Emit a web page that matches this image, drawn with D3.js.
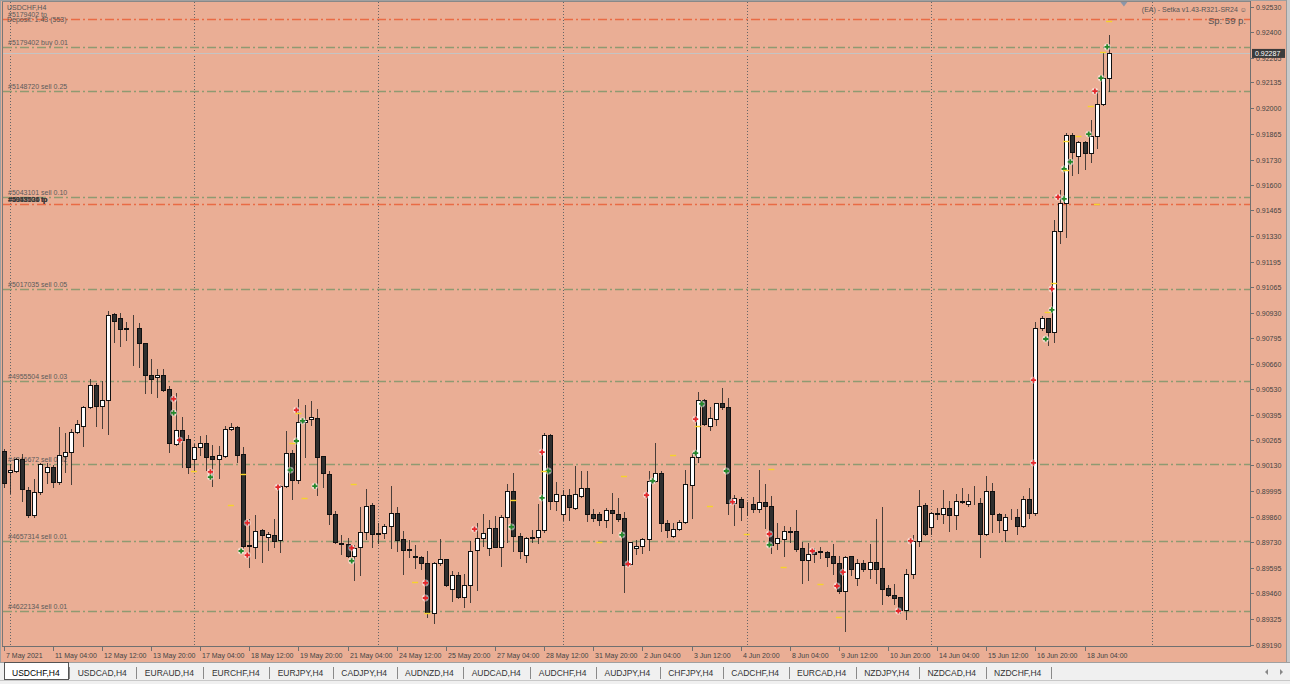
<!DOCTYPE html>
<html>
<head>
<meta charset="utf-8">
<script src="https://cdn.jsdelivr.net/npm/d3@7"></script>
<style>
  html, body { margin: 0; padding: 0; background: #f0f0f0; }
  svg { display: block; }
  text { font-family: "Liberation Sans", Arial, sans-serif; }
</style>
</head>
<body>
<div id="chart"></div>
<script>
(function(){
    var width = 1290,
        height = 684;

    // USDCHF H4, one value per bar, bar 0 = 7 May 2021 20:00
    var opens = [
      0.90206,0.90096,0.90101,0.90164,0.90001,0.89871,0.89991,0.90096,0.90122,0.90043,
      0.90179,0.90200,0.90305,0.90336,0.90436,0.90551,0.90441,0.90473,0.90923,0.90902,
      0.90850,0.90850,0.90850,0.90771,0.90603,0.90593,0.90603,0.90530,0.90242,0.90316,
      0.90268,0.90164,0.90227,0.90248,0.90179,0.90164,0.90179,0.90321,0.90331,0.90190,
      0.89713,0.89703,0.89792,0.89755,0.89766,0.89740,0.90022,0.90195,0.90054,0.90357,
      0.90373,0.90378,0.90179,0.90085,0.89876,0.89724,0.89719,0.89656,0.89703,0.89782,
      0.89923,0.89776,0.89776,0.89813,0.89881,0.89745,0.89692,0.89655,0.89651,0.89619,
      0.89357,0.89619,0.89640,0.89483,0.89556,0.89441,0.89504,0.89687,0.89750,0.89698,
      0.89803,0.89703,0.89860,0.89996,0.89761,0.89661,0.89754,0.89755,0.89792,0.90289,
      0.89944,0.89876,0.89975,0.89907,0.89970,0.90012,0.89876,0.89876,0.89844,0.89897,
      0.89876,0.89855,0.89614,0.89698,0.89708,0.89745,0.90049,0.90090,0.89829,0.89761,
      0.89797,0.89834,0.90028,0.90174,0.90473,0.90336,0.90373,0.90457,0.90436,0.89933,
      0.89954,0.89918,0.89928,0.89902,0.89939,0.89918,0.89724,0.89747,0.89787,0.89787,
      0.89698,0.89635,0.89677,0.89680,0.89677,0.89656,0.89619,0.89472,0.89656,0.89541,
      0.89619,0.89588,0.89627,0.89593,0.89488,0.89452,0.89441,0.89373,0.89562,0.89734,
      0.89923,0.89808,0.89881,0.89876,0.89907,0.89871,0.89944,0.89928,0.89939,0.89933,
      0.89771,0.89996,0.89876,0.89792,0.89866,0.89860,0.89813,0.89954,0.89881,0.90850,
      0.90902,0.90831,0.91359,0.91504,0.91862,0.91748,0.91825,0.91765,0.91856,0.92021,0.92158
    ];
    var highs = [
      0.90216,0.90138,0.90169,0.90190,0.90017,0.90059,0.90143,0.90143,0.90132,0.90331,
      0.90300,0.90321,0.90368,0.90441,0.90583,0.90562,0.90572,0.90938,0.90928,0.90928,
      0.90881,0.90918,0.90876,0.90773,0.90687,0.90635,0.90635,0.90546,0.90509,0.90384,
      0.90289,0.90242,0.90284,0.90289,0.90237,0.90232,0.90336,0.90352,0.90336,0.90227,
      0.89850,0.89871,0.89795,0.89782,0.89850,0.90028,0.90310,0.90211,0.90478,0.90446,
      0.90467,0.90425,0.90181,0.90101,0.89892,0.89766,0.89750,0.89713,0.89912,0.90007,
      0.89933,0.89829,0.89823,0.90022,0.89912,0.89787,0.89740,0.89713,0.89656,0.89682,
      0.89625,0.89745,0.89642,0.89577,0.89572,0.89562,0.89734,0.89829,0.89876,0.89844,
      0.89866,0.89871,0.90033,0.90090,0.89776,0.89755,0.89792,0.89928,0.90300,0.90295,
      0.90043,0.90001,0.90007,0.90127,0.90101,0.90101,0.89902,0.89886,0.89907,0.89986,
      0.89960,0.89886,0.89731,0.89740,0.89750,0.90101,0.90248,0.90101,0.89844,0.89829,
      0.89844,0.90106,0.90195,0.90514,0.90478,0.90436,0.90459,0.90535,0.90483,0.89975,
      0.89965,0.89939,0.89965,0.90106,0.90033,0.89970,0.89829,0.89813,0.89808,0.89897,
      0.89729,0.89724,0.89698,0.89703,0.89682,0.89719,0.89656,0.89656,0.89658,0.89638,
      0.89635,0.89719,0.89850,0.89912,0.89504,0.89509,0.89443,0.89588,0.89766,0.90001,
      0.89933,0.89886,0.89907,0.90001,0.89944,0.89980,0.90012,0.89980,0.90022,0.89960,
      0.90075,0.90038,0.89881,0.89876,0.89902,0.89902,0.89970,0.90012,0.90881,0.90913,
      0.90904,0.91417,0.91572,0.91872,0.91872,0.91830,0.91830,0.91938,0.92093,0.92296,0.92383
    ];
    var lows = [
      0.90017,0.89986,0.90096,0.89944,0.89860,0.89860,0.89980,0.90038,0.90017,0.90033,
      0.90096,0.90033,0.90300,0.90232,0.90433,0.90336,0.90326,0.90295,0.90776,0.90755,
      0.90787,0.90656,0.90645,0.90509,0.90509,0.90488,0.90520,0.90200,0.90237,0.90122,
      0.90090,0.90101,0.90185,0.90106,0.90022,0.90064,0.90174,0.90316,0.90148,0.89698,
      0.89598,0.89645,0.89625,0.89687,0.89703,0.89677,0.90017,0.89954,0.90038,0.90174,
      0.90342,0.89975,0.90017,0.89823,0.89724,0.89666,0.89651,0.89530,0.89556,0.89745,
      0.89703,0.89724,0.89750,0.89698,0.89682,0.89562,0.89651,0.89593,0.89588,0.89337,
      0.89305,0.89609,0.89499,0.89420,0.89436,0.89389,0.89415,0.89478,0.89708,0.89661,
      0.89703,0.89603,0.89729,0.89682,0.89645,0.89625,0.89729,0.89724,0.89782,0.89902,
      0.89897,0.89844,0.89844,0.89904,0.89965,0.89839,0.89839,0.89818,0.89808,0.89776,
      0.89839,0.89467,0.89609,0.89666,0.89672,0.89687,0.90043,0.89787,0.89755,0.89755,
      0.89792,0.89831,0.89855,0.90148,0.90342,0.90316,0.90342,0.90425,0.89876,0.89818,
      0.89844,0.89871,0.89886,0.89886,0.89803,0.89672,0.89692,0.89658,0.89727,0.89682,
      0.89517,0.89530,0.89627,0.89648,0.89606,0.89562,0.89462,0.89263,0.89556,0.89504,
      0.89577,0.89541,0.89515,0.89405,0.89446,0.89405,0.89357,0.89326,0.89541,0.89708,
      0.89766,0.89771,0.89850,0.89829,0.89787,0.89797,0.89933,0.89918,0.89928,0.89651,
      0.89766,0.89782,0.89782,0.89734,0.89850,0.89771,0.89808,0.89855,0.89871,0.90839,
      0.90761,0.90776,0.91294,0.91328,0.91650,0.91661,0.91680,0.91721,0.91793,0.92017,0.92090
    ];
    var closes = [
      0.90038,0.90106,0.90164,0.90007,0.89871,0.89991,0.90138,0.90122,0.90043,0.90185,
      0.90200,0.90305,0.90347,0.90436,0.90551,0.90441,0.90473,0.90918,0.90886,0.90844,
      0.90844,0.90847,0.90771,0.90603,0.90582,0.90603,0.90525,0.90248,0.90316,0.90263,
      0.90122,0.90227,0.90248,0.90174,0.90164,0.90185,0.90321,0.90331,0.90185,0.89708,
      0.89708,0.89787,0.89766,0.89771,0.89734,0.90022,0.90195,0.90054,0.90357,0.90368,
      0.90384,0.90174,0.90090,0.89876,0.89729,0.89721,0.89656,0.89698,0.89782,0.89918,
      0.89771,0.89773,0.89813,0.89881,0.89740,0.89687,0.89689,0.89651,0.89619,0.89357,
      0.89619,0.89640,0.89504,0.89556,0.89441,0.89504,0.89682,0.89750,0.89776,0.89803,
      0.89705,0.89860,0.89996,0.89761,0.89682,0.89750,0.89750,0.89792,0.90289,0.89944,
      0.89980,0.89975,0.89912,0.89980,0.90012,0.89876,0.89855,0.89844,0.89897,0.89881,
      0.89850,0.89609,0.89727,0.89708,0.89745,0.90049,0.90090,0.89829,0.89792,0.89797,
      0.89834,0.90033,0.90174,0.90473,0.90347,0.90378,0.90455,0.90436,0.89933,0.89960,
      0.89912,0.89916,0.89902,0.89939,0.89918,0.89713,0.89750,0.89787,0.89784,0.89692,
      0.89635,0.89666,0.89666,0.89678,0.89651,0.89619,0.89472,0.89651,0.89588,0.89619,
      0.89588,0.89627,0.89588,0.89483,0.89452,0.89436,0.89373,0.89562,0.89734,0.89918,
      0.89772,0.89881,0.89878,0.89907,0.89871,0.89944,0.89941,0.89944,0.89937,0.89771,
      0.89996,0.89876,0.89844,0.89860,0.89864,0.89813,0.89954,0.89881,0.90852,0.90902,
      0.90831,0.91359,0.91504,0.91862,0.91769,0.91825,0.91765,0.91856,0.92021,0.92156,0.92287
    ];

    // time axis: one label every 8 bars
    var timeLabels = ["7 May 2021","11 May 04:00","12 May 12:00","13 May 20:00","17 May 04:00",
      "18 May 12:00","19 May 20:00","21 May 04:00","24 May 12:00","25 May 20:00","27 May 04:00",
      "28 May 12:00","31 May 20:00","2 Jun 04:00","3 Jun 12:00","4 Jun 20:00","8 Jun 04:00",
      "9 Jun 12:00","10 Jun 20:00","14 Jun 04:00","15 Jun 12:00","16 Jun 20:00","18 Jun 04:00"];
    var labelStep = 8;
    var weekBars = [1, 31, 61, 91, 121, 151, 187];

    var priceTicks = [0.92530,0.92400,0.92265,0.92135,0.92000,0.91865,0.91730,0.91600,0.91465,
      0.91330,0.91195,0.91065,0.90930,0.90795,0.90660,0.90530,0.90395,0.90265,0.90130,0.89995,
      0.89860,0.89730,0.89595,0.89460,0.89325,0.89190];
    var bid = 0.92287;

    // open orders drawn as horizontal lines
    var orderPrices = [0.92467, 0.92321, 0.92090, 0.91535, 0.91499, 0.91054, 0.90572, 0.90138, 0.89734, 0.89368];
    var orderTypes  = ["tp","open","open","open","tp","open","open","open","open","open"];
    var orderTexts  = [["#5179402 tp"], ["#5179402 buy 0.01"], ["#5148720 sell 0.25"], ["#5043101 sell 0.10"],
      ["#5043101 tp","#5017035 tp","#4955504 tp","#5148720 tp"], ["#5017035 sell 0.05"], ["#4955504 sell 0.03"],
      ["#4846672 sell 0.02"], ["#4657314 sell 0.01"], ["#4622134 sell 0.01"]];

    // trade arrows [bar, price]
    var sellMarks = [[28,0.90478],[29,0.90263],[34,0.90096],[40,0.89829],[40,0.89661],[48,0.90420],[45,0.90017],
      [57,0.89698],[69,0.89515],[69,0.89436],[77,0.89797],[88,0.90200],[102,0.89614],[105,0.89975],[113,0.90373],
      [119,0.89939],[125,0.89771],[132,0.89682],[136,0.89499],[137,0.89572],[146,0.89368],[148,0.89735],
      [168,0.90577],[168,0.90143],[171,0.91054],[172,0.91535],[178,0.92090]];
    var buyMarks = [[28,0.90405],[34,0.90069],[39,0.89682],[49,0.90363],[48,0.90258],[47,0.90106],[51,0.90022],
      [57,0.89630],[83,0.89808],[89,0.90101],[88,0.89960],[101,0.89766],[106,0.90049],[114,0.90452],[113,0.90195],
      [118,0.90101],[125,0.89714],[170,0.90792],[171,0.90944],[173,0.91525],[173,0.91682],[174,0.91719],
      [177,0.91865],[179,0.92158],[180,0.92321]];
    var levelMarks = [[31,0.90101],[37,0.89923],[39,0.90085],[48,0.90405],[47,0.90248],[49,0.89960],[57,0.90033],
      [67,0.89520],[69,0.89357],[83,0.89949],[88,0.90101],[101,0.90075],[97,0.89729],[109,0.90185],[113,0.90336],
      [115,0.89918],[121,0.89771],[125,0.90111],[127,0.89598],[133,0.89509],[136,0.89337],[170,0.90934],
      [171,0.91085],[173,0.91677],[173,0.91828],[175,0.91855],[177,0.92012],[179,0.92297],[180,0.92459],[178,0.91498]];

    var tabNames = ["USDCHF,H4","USDCAD,H4","EURAUD,H4","EURCHF,H4","EURJPY,H4","CADJPY,H4","AUDNZD,H4",
      "AUDCAD,H4","AUDCHF,H4","AUDJPY,H4","CHFJPY,H4","CADCHF,H4","EURCAD,H4","NZDJPY,H4","NZDCAD,H4","NZDCHF,H4"];

    var bg = "#eaae95",
        plotRight = 1250,
        plotBottom = 646;

    var x = d3.scaleLinear().domain([0, 180]).range([3.6, 3.6 + 180 * 6.142]);
    var y = d3.scaleLinear().domain([0.89190, 0.92530]).range([645, 7]);
    function px(v){ return Math.round(v) + 0.5 }

    var svg = d3.select("#chart")
      .append("svg")
      .attr("width", width)
      .attr("height", height)

    svg.append("rect").attr("width", width).attr("height", height).attr("fill", "#f0f0f0")
    svg.append("rect").attr("width", 1286).attr("height", 662).attr("fill", bg)
    svg.append("rect").attr("x", 1286).attr("width", 4).attr("height", 662).attr("fill", "#c9c9c9")
    svg.append("line").attr("x1", 1286.5).attr("x2", 1286.5).attr("y1", 0).attr("y2", 662).attr("stroke", "#9a9a9a")

    // frame
    svg.append("line").attr("x1", 0.5).attr("x2", 0.5).attr("y1", 0).attr("y2", 662).attr("stroke", "#a0a0a0")
    svg.append("line").attr("x1", 2.5).attr("x2", 2.5).attr("y1", 1).attr("y2", 647).attr("stroke", "#777")
    svg.append("line").attr("x1", 0).attr("x2", 1286).attr("y1", 0.5).attr("y2", 0.5).attr("stroke", "#a0a0a0")
    svg.append("line").attr("x1", 2).attr("x2", plotRight).attr("y1", 1.5).attr("y2", 1.5).attr("stroke", "#888")

    var plot = svg.append("g")

    // weekly grid
    plot.selectAll(".vgrid")
      .data(weekBars)
      .enter().append("line")
      .attr("class", "vgrid")
      .attr("x1", function(d){ return px(x(d)) })
      .attr("x2", function(d){ return px(x(d)) })
      .attr("y1", 2)
      .attr("y2", plotBottom)
      .attr("stroke", "#666")
      .attr("stroke-dasharray", "1,2")

    // bid line
    plot.append("line")
      .attr("x1", 3).attr("x2", plotRight)
      .attr("y1", px(y(bid))).attr("y2", px(y(bid)))
      .attr("stroke", "#c4c4c4")

    // order lines + their labels
    plot.selectAll(".order")
      .data(orderPrices)
      .enter().append("line")
      .attr("class", "order")
      .attr("x1", 3).attr("x2", plotRight)
      .attr("y1", function(d){ return px(y(d)) })
      .attr("y2", function(d){ return px(y(d)) })
      .attr("stroke", function(d, i){ return orderTypes[i] == "tp" ? "#e96b45" : "#8f9a72" })
      .attr("stroke-width", 1.3)
      .attr("stroke-dasharray", "9,3,2,3")

    orderPrices.forEach(function(p, i){
      orderTexts[i].forEach(function(t, k){
        plot.append("text")
          .attr("x", 8 + (k % 2) * 0.4)
          .attr("y", y(p) - 2)
          .attr("font-size", 7)
          .attr("fill", orderTexts[i].length > 1 ? "#3a3a3a" : "#5b5b5b")
          .text(t)
      })
    })

    // top-left info
    plot.append("text").attr("x", 7).attr("y", 10).attr("font-size", 7).attr("fill", "#555").text("USDCHF,H4")
    plot.append("text").attr("x", 7).attr("y", 21.5).attr("font-size", 7).attr("fill", "#555").text("Deposit: 1.43 (553)")

    // top-right EA info
    plot.append("text").attr("x", 1247).attr("y", 12).attr("font-size", 7).attr("fill", "#555")
      .attr("text-anchor", "end").text("(EA) - Setka v1.43-R321-SR24 \u263A")
    plot.append("text").attr("x", 1246).attr("y", 23.5).attr("font-size", 9.5).attr("fill", "#555")
      .attr("text-anchor", "end").text("Sp: 59 p.")

    // chart shift marker
    plot.append("path")
      .attr("d", "M" + (x(182.4) - 3.5) + ",2 h7 l-3.5,4.5 z")
      .attr("fill", "#8c96a8")

    // candles
    var bars = d3.range(opens.length)
    var candle = plot.selectAll(".candle")
      .data(bars)
      .enter().append("g")
      .attr("class", "candle")

    candle.append("line")
      .attr("x1", function(i){ return px(x(i)) })
      .attr("x2", function(i){ return px(x(i)) })
      .attr("y1", function(i){ return Math.round(y(highs[i])) })
      .attr("y2", function(i){ return Math.round(y(lows[i])) + 1 })
      .attr("stroke", "#222")
      .attr("stroke-opacity", 0.8)

    candle.append("rect")
      .attr("x", function(i){ return Math.round(x(i)) - 2 + 0.5 })
      .attr("y", function(i){ return Math.round(y(Math.max(opens[i], closes[i]))) + 0.5 })
      .attr("width", 4)
      .attr("height", function(i){
        return Math.max(0, Math.round(y(Math.min(opens[i], closes[i]))) - Math.round(y(Math.max(opens[i], closes[i]))))
      })
      .attr("fill", function(i){ return closes[i] >= opens[i] ? "#ffffff" : "#2f2f2f" })
      .attr("stroke", "#111")

    // trade arrows
    function drawMark(list, color){
      var g = plot.selectAll(null)
        .data(list)
        .enter().append("g")
        .attr("transform", function(d){ return "translate(" + (x(d[0]) - 2) + "," + y(d[1]) + ")" })
      g.append("circle").attr("r", 3.4).attr("fill", "#fff").attr("fill-opacity", 0.55)
      g.append("path").attr("d", "M-2.6,0H2.6M0,-2.6V2.6")
        .attr("stroke", color).attr("stroke-width", 1.8)
    }
    drawMark(sellMarks, "#e5262a")
    drawMark(buyMarks, "#22882a")

    plot.selectAll(".lvl")
      .data(levelMarks)
      .enter().append("line")
      .attr("class", "lvl")
      .attr("x1", function(d){ return x(d[0]) - 3 })
      .attr("x2", function(d){ return x(d[0]) + 3 })
      .attr("y1", function(d){ return px(y(d[1])) })
      .attr("y2", function(d){ return px(y(d[1])) })
      .attr("stroke", "#f6d32b")
      .attr("stroke-width", 1.4)

    // price axis
    svg.append("line").attr("x1", plotRight + 0.5).attr("x2", plotRight + 0.5).attr("y1", 1).attr("y2", plotBottom + 1)
      .attr("stroke", "#707070")
    svg.append("line").attr("x1", 2).attr("x2", plotRight + 1).attr("y1", plotBottom + 0.5).attr("y2", plotBottom + 0.5)
      .attr("stroke", "#707070")

    var yt = svg.selectAll(".ytick")
      .data(priceTicks)
      .enter().append("g")
      .attr("class", "ytick")
      .attr("transform", function(d){ return "translate(0," + px(y(d)) + ")" })
    yt.append("line").attr("x1", plotRight).attr("x2", plotRight + 4).attr("stroke", "#707070")
    yt.append("text")
      .attr("x", 1256).attr("dy", "0.35em")
      .attr("font-size", 7)
      .attr("fill", "#444")
      .text(function(d){ return d.toFixed(5) })

    // current price box
    svg.append("rect")
      .attr("x", 1252).attr("y", y(bid) - 4.5)
      .attr("width", 33).attr("height", 9)
      .attr("fill", "#3b3b3b")
    svg.append("text")
      .attr("x", 1255).attr("y", y(bid)).attr("dy", "0.35em")
      .attr("font-size", 7).attr("fill", "#fff")
      .text(bid.toFixed(5))

    // time axis
    var xt = svg.selectAll(".xtick")
      .data(timeLabels)
      .enter().append("g")
      .attr("class", "xtick")
      .attr("transform", function(d, i){ return "translate(" + px(x(i * labelStep)) + ",0)" })
    xt.append("line").attr("y1", plotBottom).attr("y2", plotBottom + 5).attr("stroke", "#707070")
    xt.append("text")
      .attr("x", 1.5).attr("y", 658)
      .attr("font-size", 7)
      .attr("fill", "#444")
      .text(function(d){ return d })

    // symbol tabs
    var tabs = svg.append("g")
    tabs.append("line").attr("x1", 0).attr("x2", width).attr("y1", 662.5).attr("y2", 662.5).attr("stroke", "#a0a0a0")
    tabs.append("line").attr("x1", 0).attr("x2", width).attr("y1", 680.5).attr("y2", 680.5).attr("stroke", "#c8c8c8")
    var tx = 12
    tabNames.forEach(function(name, i){
      var t = tabs.append("text")
        .attr("x", tx).attr("y", 676)
        .attr("font-size", 8.5)
        .attr("fill", i == 0 ? "#000" : "#333")
        .text(name)
      var w = t.node().getComputedTextLength()
      if (i == 0) {
        tabs.insert("rect", "text")
          .attr("x", 4.5).attr("y", 662.5).attr("width", 64).attr("height", 17)
          .attr("fill", "#fff").attr("stroke", "#555")
      }
      var sep = tx + w + 9.5
      tabs.append("line")
        .attr("x1", px(sep)).attr("x2", px(sep))
        .attr("y1", 667).attr("y2", 679)
        .attr("stroke", "#8a8a8a")
      tx = sep + 8.5
    })
    tabs.append("path").attr("d", "M1268,669 l-3,3 l3,3 z").attr("fill", "#888")
    tabs.append("path").attr("d", "M1280,669 l3,3 l-3,3 z").attr("fill", "#888")

})();
</script>
</body>
</html>
